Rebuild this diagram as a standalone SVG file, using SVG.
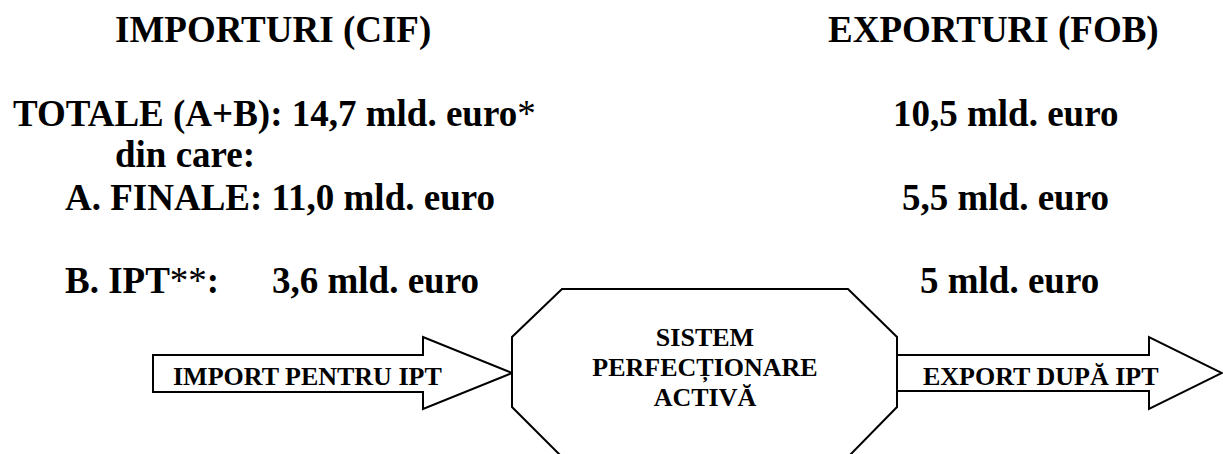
<svg xmlns="http://www.w3.org/2000/svg" width="1223" height="454" viewBox="0 0 1223 454">
  <style>
    .t { font-family: 'Liberation Serif', 'Times New Roman', Tinos, serif; font-weight: 700; fill: #000; }
    .big { font-size: 37px; }
    .small { font-size: 26px; }
    .ast { font-weight: 400; }
    .shape { fill: #fff; stroke: #000; stroke-width: 2; stroke-linejoin: miter; }
  </style>
  <rect width="1223" height="454" fill="#fff"/>

  <g id="imports-column" font-family="Liberation Serif, serif">
    <text class="t big" x="115" y="42">IMPORTURI (CIF)</text>
    <text class="t big" x="13" y="126">TOTALE (A+B): 14,7 mld. euro<tspan class="ast">*</tspan></text>
    <text class="t big" x="115" y="167">din care:</text>
    <text class="t big" x="65" y="210">A. FINALE: 11,0 mld. euro</text>
    <text class="t big" x="65" y="293">B. IPT<tspan class="ast">**</tspan>:</text>
    <text class="t big" x="272" y="293">3,6 mld. euro</text>
  </g>

  <g id="exports-column" font-family="Liberation Serif, serif">
    <text class="t big" x="828" y="42">EXPORTURI (FOB)</text>
    <text class="t big" x="893" y="126">10,5 mld. euro</text>
    <text class="t big" x="902" y="210">5,5 mld. euro</text>
    <text class="t big" x="920" y="293">5 mld. euro</text>
  </g>

  <g id="connectors">
    <g id="import-arrow">
      <polygon class="shape" points="153,355 423,355 423,337 512,373 423,409 423,392 153,392"/>
      <text class="t small" x="173" y="385">IMPORT PENTRU IPT</text>
    </g>
    <g id="export-arrow">
      <polygon class="shape" points="897,355 1149,355 1149,337 1222,373 1149,409 1149,391 897,391"/>
      <text class="t small" x="923" y="385">EXPORT DUPĂ IPT</text>
    </g>
  </g>

  <g id="sistem-perfectionare-activa">
    <polygon class="shape" points="562,289 848,289 897,337 897,407 849,456 561,456 512,407 512,337"/>
    <text class="t small" x="705" y="346" text-anchor="middle">SISTEM</text>
    <text class="t small" x="705" y="376" text-anchor="middle">PERFECȚIONARE</text>
    <text class="t small" x="705" y="406" text-anchor="middle">ACTIVĂ</text>
  </g>
</svg>
